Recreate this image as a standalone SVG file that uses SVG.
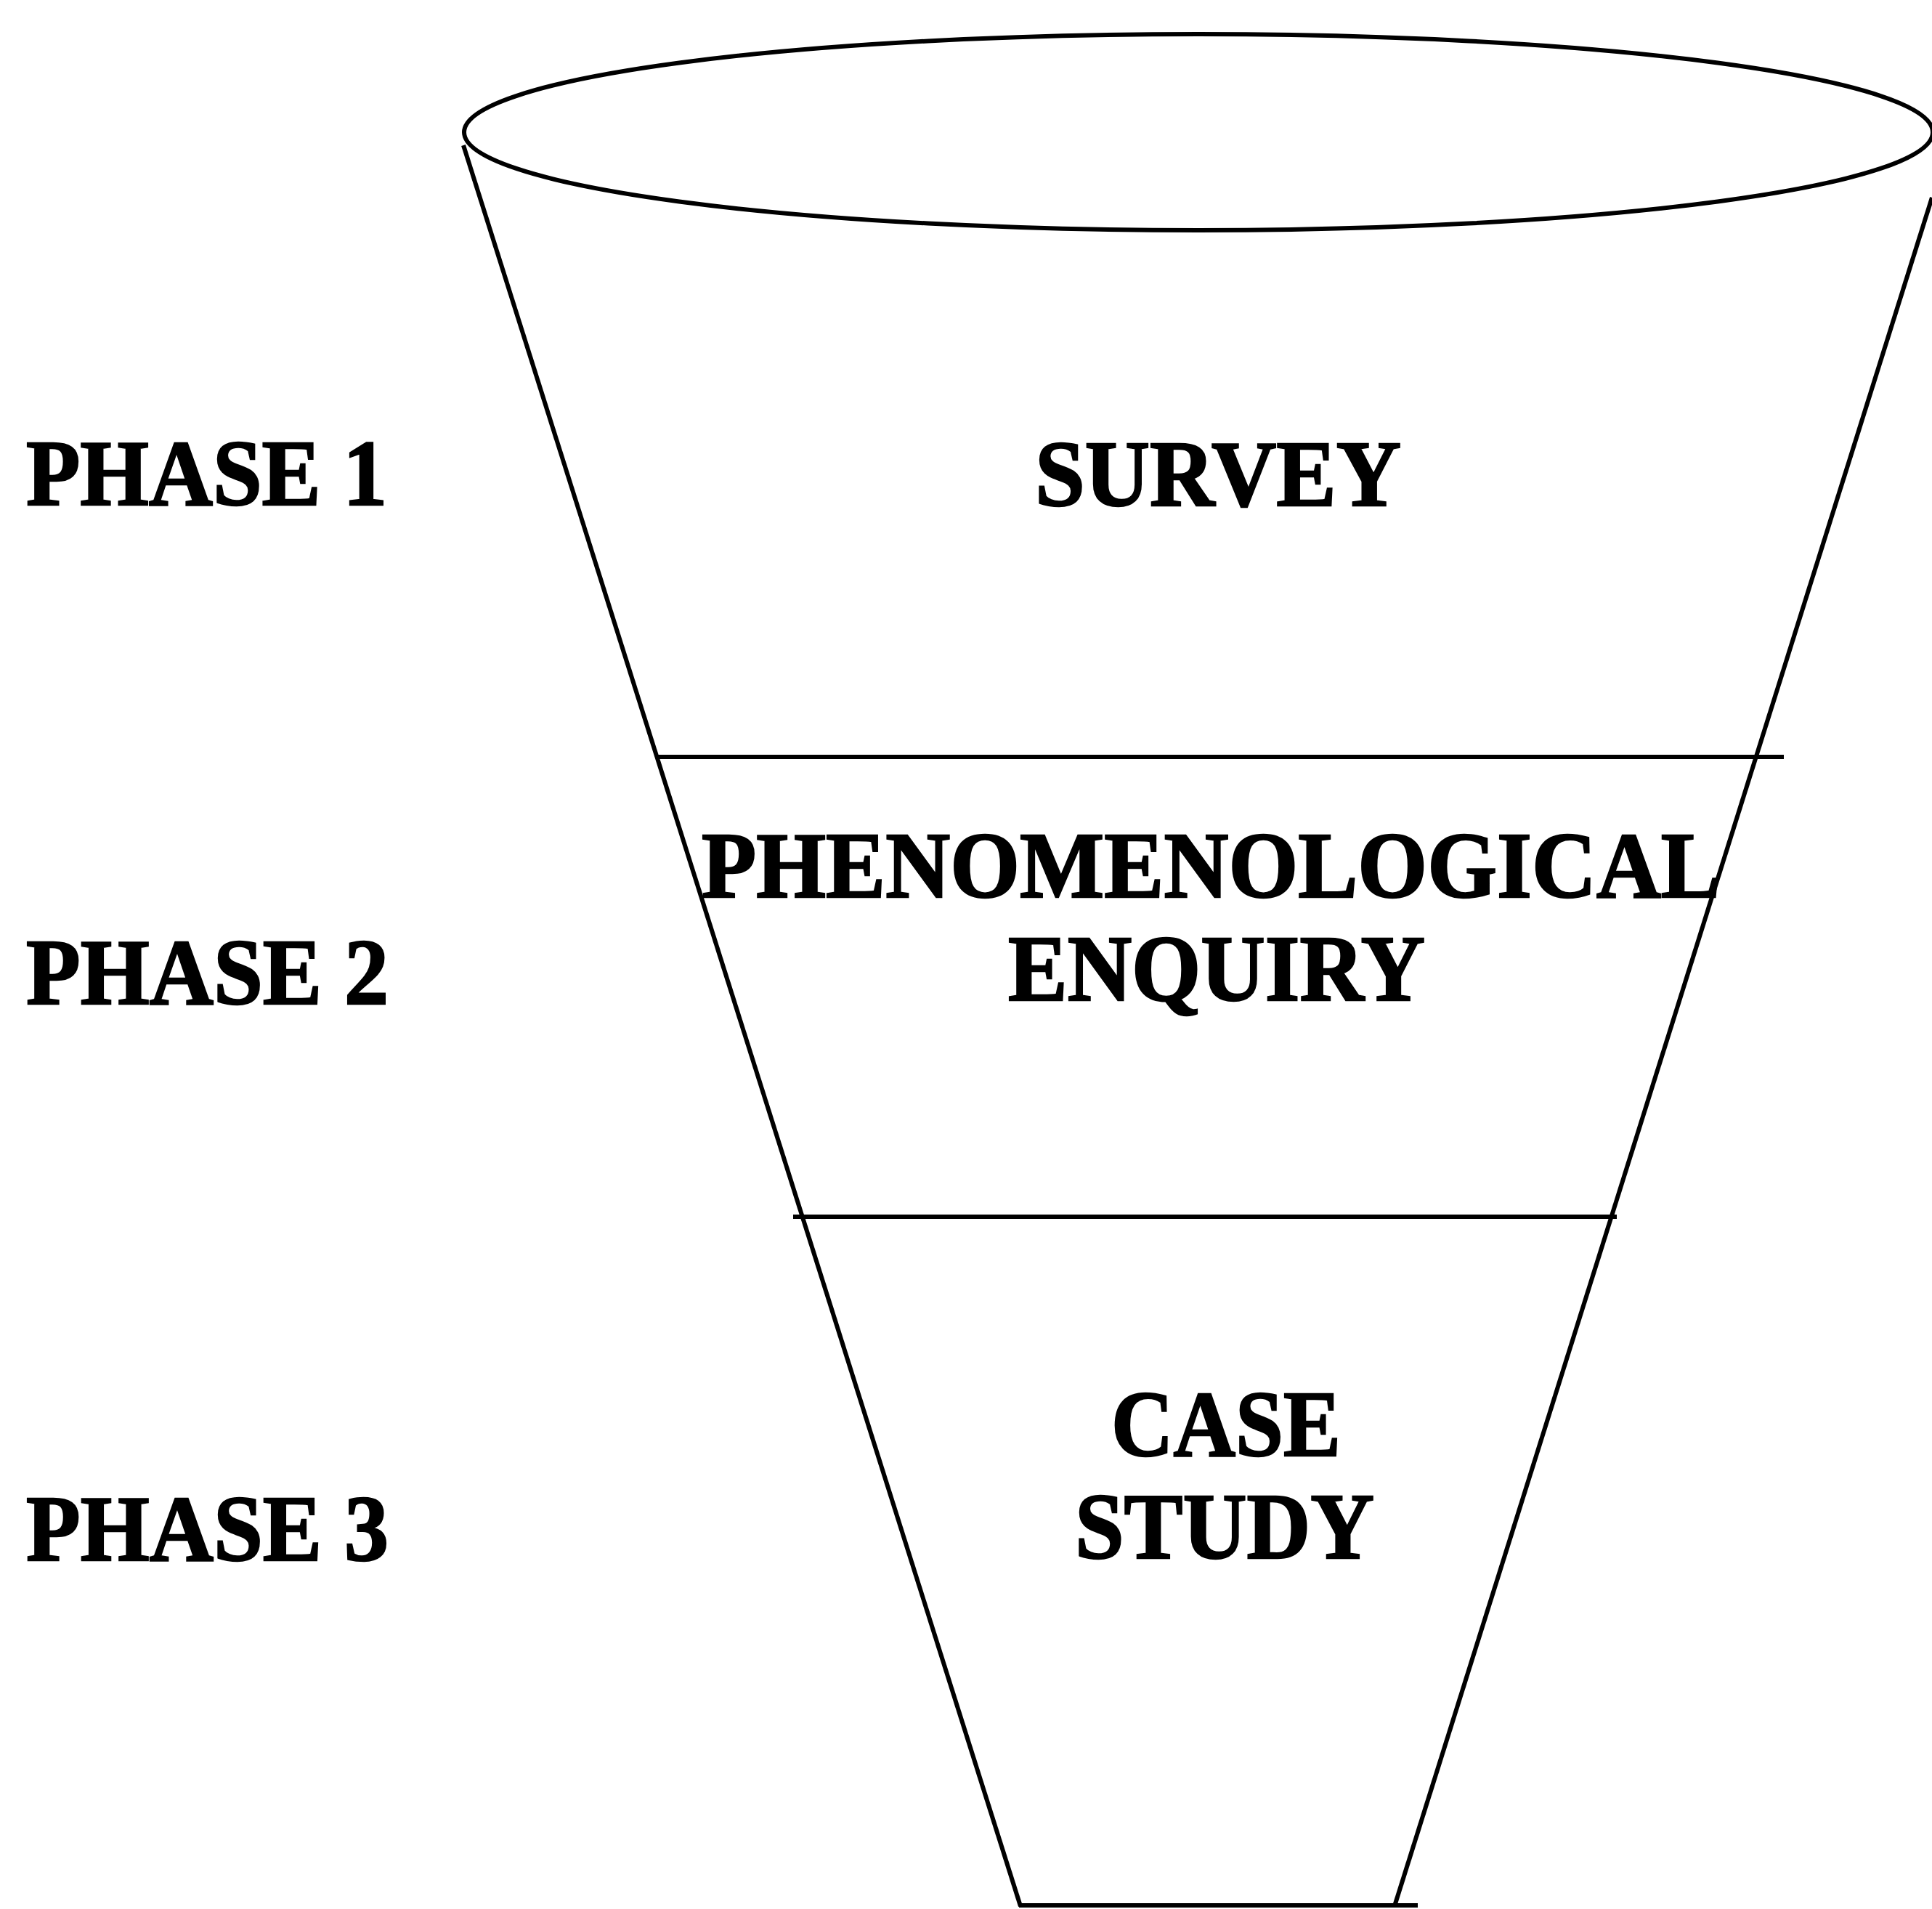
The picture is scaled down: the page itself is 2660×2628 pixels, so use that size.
<svg xmlns="http://www.w3.org/2000/svg" width="2660" height="2628" viewBox="0 0 2660 2628">
<style>
.ln{stroke:#000;stroke-width:6;fill:none;stroke-linecap:butt}
.t{font-family:"Liberation Serif","Times New Roman",serif;font-weight:bold;font-size:130px;fill:#000;stroke:#000;stroke-width:2.5}
</style>
<rect width="2660" height="2628" fill="#fff"/>
<g id="funnel">
<ellipse class="ln" cx="1650" cy="182" rx="1011" ry="135" stroke-width="7"/>
<line class="ln" x1="638" y1="200" x2="1405" y2="2624"/>
<line class="ln" x1="2660" y1="272" x2="1920" y2="2624"/>
</g>
<g id="connectors">
<line class="ln" x1="904" y1="1042" x2="2456" y2="1042"/>
<line class="ln" x1="1092" y1="1675" x2="2226" y2="1675"/>
<line class="ln" x1="1403" y1="2623" x2="1952" y2="2623"/>
</g>
<g id="phase1"><text class="t" x="36" y="695" textLength="497" lengthAdjust="spacingAndGlyphs">PHASE 1</text></g>
<g id="phase2"><text class="t" x="36" y="1382" textLength="499" lengthAdjust="spacingAndGlyphs">PHASE 2</text></g>
<g id="phase3"><text class="t" x="36" y="2148" textLength="499" lengthAdjust="spacingAndGlyphs">PHASE 3</text></g>
<g id="survey"><text class="t" x="1425" y="696" textLength="504" lengthAdjust="spacingAndGlyphs">SURVEY</text></g>
<g id="phenomenological">
<text class="t" x="966" y="1235" textLength="1403" lengthAdjust="spacingAndGlyphs">PHENOMENOLOGICAL</text>
<text class="t" x="1388" y="1377" textLength="574" lengthAdjust="spacingAndGlyphs">ENQUIRY</text>
</g>
<g id="casestudy">
<text class="t" x="1530" y="2004" textLength="316" lengthAdjust="spacingAndGlyphs">CASE</text>
<text class="t" x="1480" y="2145" textLength="412" lengthAdjust="spacingAndGlyphs">STUDY</text>
</g>
</svg>
